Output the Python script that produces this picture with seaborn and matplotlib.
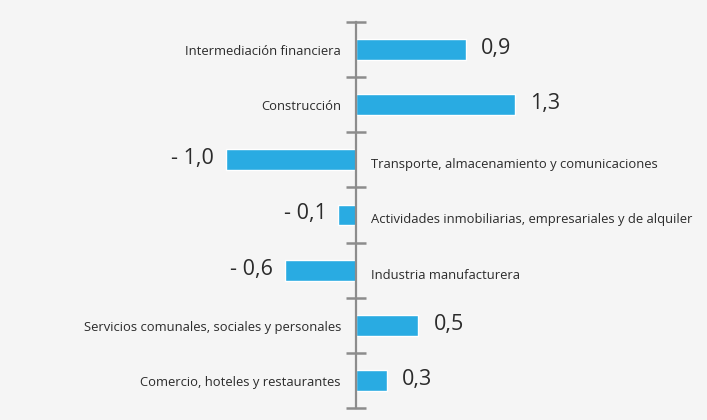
import pandas as pd
import matplotlib.pyplot as plt
import seaborn as sns

# Sector names and variation values
sectors = [
    "Intermediación financiera",
    "Construcción",
    "Transporte, almacenamiento y comunicaciones",
    "Actividades inmobiliarias, empresariales y de alquiler",
    "Industria manufacturera",
    "Servicios comunales, sociales y personales",
    "Comercio, hoteles y restaurantes",
]
values = [0.88, 1.27, -1.04, -0.14, -0.57, 0.50, 0.25]
value_labels = ["0,9", "1,3", "- 1,0", "- 0,1", "- 0,6", "0,5", "0,3"]

df = pd.DataFrame({"sector": sectors, "value": values, "label": value_labels})

bg = "#f5f5f5"
bar_color = "#29abe2"
axis_color = "#8c8c8c"
text_color = "#2b2b2b"

sns.set_style("white")
plt.rcParams["font.family"] = ["Open Sans", "DejaVu Sans"]

fig = plt.figure(figsize=(7.07, 4.2), dpi=100, facecolor=bg)
ax = fig.add_axes([0, 0, 1, 1])
ax.set_facecolor(bg)

sns.barplot(data=df, y="sector", x="value", orient="h", color=bar_color,
            width=0.38, saturation=1, ax=ax)

# Zero axis with category separators
ax.set_xlim(-2.848, 2.808)
ax.set_ylim(6.718, -0.899)
for side in ["top", "right", "bottom"]:
    ax.spines[side].set_visible(False)
ax.spines["left"].set_position(("data", 0))
ax.spines["left"].set_bounds(-0.5, len(sectors) - 0.5)
ax.spines["left"].set_color(axis_color)
ax.spines["left"].set_linewidth(1.6)
ax.set_yticks([i - 0.5 for i in range(len(sectors) + 1)])
ax.set_yticklabels([])
ax.tick_params(axis="y", left=True, direction="inout", length=15, width=1.8, color=axis_color)
ax.set_xticks([])
ax.set_xlabel("")
ax.set_ylabel("")

# Category and value labels
for i, row in df.iterrows():
    if row["value"] >= 0:
        ax.annotate(row["sector"], (0, i), xytext=(-15, -2), textcoords="offset pixels",
                    ha="right", va="center", fontsize=9.4, color=text_color)
        ax.annotate(row["label"], (row["value"], i), xytext=(15, 1), textcoords="offset pixels",
                    ha="left", va="center", fontsize=15.5, color=text_color)
    else:
        ax.annotate(row["sector"], (0, i), xytext=(15, -5), textcoords="offset pixels",
                    ha="left", va="center", fontsize=9.4, color=text_color)
        ax.annotate(row["label"], (row["value"], i), xytext=(-12, 1), textcoords="offset pixels",
                    ha="right", va="center", fontsize=15.5, color=text_color)

plt.savefig("out.png", dpi=100, facecolor=bg)
